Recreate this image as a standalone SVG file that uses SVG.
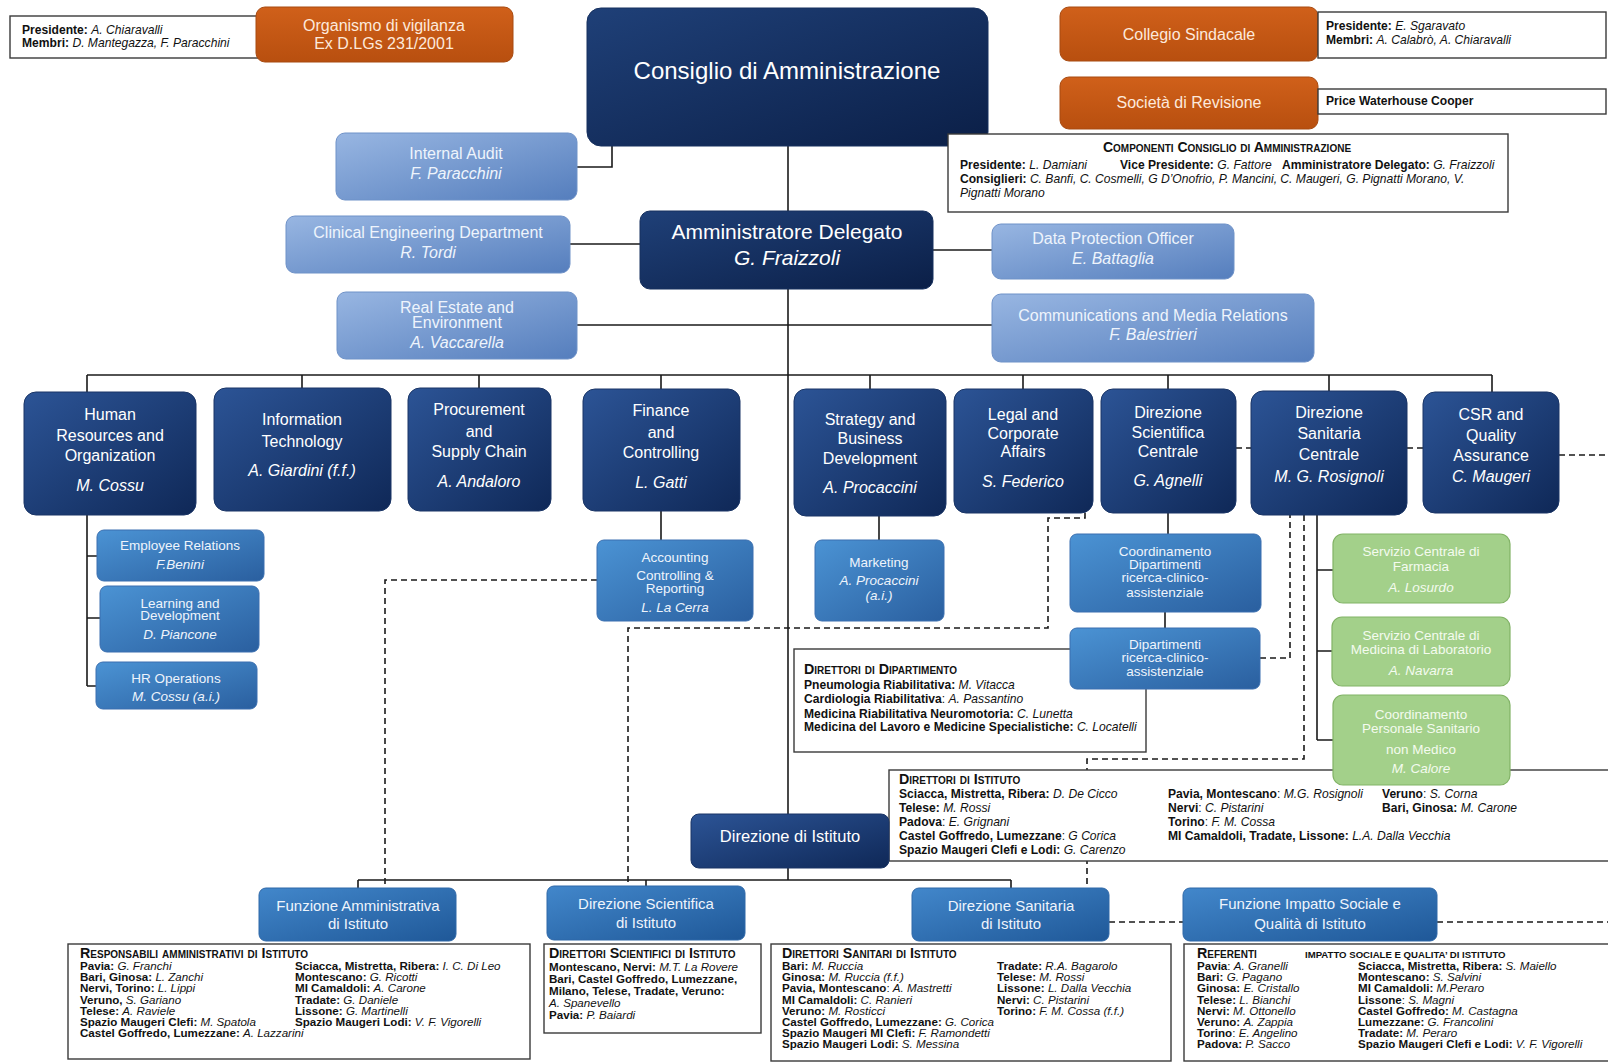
<svg xmlns="http://www.w3.org/2000/svg" width="1608" height="1064" viewBox="0 0 1608 1064">
<defs>
<linearGradient id="gDark" x1="0" y1="0" x2="1" y2="1"><stop offset="0" stop-color="#2c5496"/><stop offset="1" stop-color="#0f2857"/></linearGradient>
<linearGradient id="gTop" x1="0" y1="0" x2="1" y2="1"><stop offset="0" stop-color="#1f4078"/><stop offset="1" stop-color="#0b1f47"/></linearGradient>
<linearGradient id="gLight" x1="0" y1="0" x2="1" y2="1"><stop offset="0" stop-color="#98b6e2"/><stop offset="1" stop-color="#557ebd"/></linearGradient>
<linearGradient id="gMed" x1="0" y1="0" x2="1" y2="1"><stop offset="0" stop-color="#4b93d4"/><stop offset="1" stop-color="#2a5f9f"/></linearGradient>
<linearGradient id="gBot" x1="0" y1="0" x2="1" y2="1"><stop offset="0" stop-color="#4287cb"/><stop offset="1" stop-color="#1f5898"/></linearGradient>
<linearGradient id="gOr" x1="0" y1="0" x2="0" y2="1"><stop offset="0" stop-color="#d0601a"/><stop offset="1" stop-color="#b84f0f"/></linearGradient>
</defs>
<style>
.t{font-family:"Liberation Sans",Arial,sans-serif;fill:#ffffff;text-anchor:middle}
.i{font-style:italic}
.f16{font-size:16px}.f15{font-size:15px}.f13{font-size:13.5px}
.info{font-family:"Liberation Sans",Arial,sans-serif;font-size:12.1px;fill:#111}
.sm{font-size:11.6px}
.b{font-weight:bold}
.it{font-style:italic}
.sc{font-variant:small-caps;font-weight:bold;font-size:14.3px}
.ln{stroke:#1a1a1a;stroke-width:1.6;fill:none}
.ds{stroke:#1a1a1a;stroke-width:1.6;fill:none;stroke-dasharray:6 4}
.box{fill:#ffffff;stroke:#3a3a3a;stroke-width:1.4}
.dark{fill:url(#gDark);stroke:#1a3566;stroke-width:1}
.top{fill:url(#gTop);stroke:#16305e;stroke-width:1}
.light{fill:url(#gLight);stroke:#6f92c8;stroke-width:1}
.med{fill:url(#gMed);stroke:#3a6fb0;stroke-width:1}
.bot{fill:url(#gBot);stroke:#2f68a8;stroke-width:1}
.or{fill:url(#gOr);stroke:#a84a10;stroke-width:1}
.gr{fill:#a3d08a;stroke:#82b366;stroke-width:1.2}
.tl{fill:#eef4fc}
.tg{fill:#f4fbef}
</style>

<g id="connectors">
<path class="ln" d="M788,146 V814"/>
<path class="ln" d="M577,167 H612 V146"/>
<path class="ln" d="M570,244 H640"/>
<path class="ln" d="M933,250 H992"/>
<path class="ln" d="M577,325 H992"/>
<path class="ln" d="M87,375 H1492"/>
<path class="ln" d="M87,375 V392 M302,375 V388 M479,375 V388 M661,375 V389 M870,375 V389 M1023,375 V389 M1168,375 V389 M1329,375 V391 M1492,375 V392"/>
<path class="ln" d="M87,515 V686 M87,556 H97 M87,618 H100 M87,686 H96"/>
<path class="ln" d="M661,511 V540 M879,516 V540"/>
<path class="ln" d="M1168,513 V534 M1165,612 V628"/>
<path class="ln" d="M1317,515 V740 M1317,570 H1333 M1317,651 H1332 M1317,740 H1333"/>
<path class="ln" d="M788,868 V880 M358,880 H1011 M358,880 V888 M646,880 V886 M1011,880 V888"/>
<path class="ds" d="M1236,448 H1251 M1407,448 H1423 M1559,455 H1608"/>
<path class="ds" d="M1085,513 V518 H1048 V628 H628 V886"/>
<path class="ds" d="M597,580 H385 V888"/>
<path class="ds" d="M1260,658 H1290 V515"/>
<path class="ds" d="M1304,515 V759 H1087 V888"/>
<path class="ds" d="M1109,922 H1183 M1437,922 H1608"/>
</g>

<g id="ov-info">
<rect class="box" x="10" y="16" width="248" height="42"/>
<text class="info" x="22" y="34"><tspan class="b">Presidente: </tspan><tspan class="it">A. Chiaravalli</tspan></text>
<text class="info" x="22" y="47"><tspan class="b">Membri: </tspan><tspan class="it">D. Mantegazza, F. Paracchini</tspan></text>
</g>
<g id="organismo">
<rect class="or" x="256" y="7" width="257" height="55" rx="9"/>
<text class="t f16" x="384" y="31" style="fill:#fde9dc">Organismo di vigilanza</text>
<text class="t f16" x="384" y="49" style="fill:#fde9dc">Ex D.LGs 231/2001</text>
</g>

<g id="cda">
<rect class="top" x="587" y="8" width="401" height="138" rx="14"/>
<text class="t" x="787" y="79" style="font-size:24px">Consiglio di Amministrazione</text>
</g>

<g id="collegio">
<rect class="or" x="1060" y="7" width="258" height="54" rx="9"/>
<text class="t f16" x="1189" y="40" style="fill:#fde9dc">Collegio Sindacale</text>
</g>
<g id="collegio-info">
<rect class="box" x="1318" y="12" width="288" height="46"/>
<text class="info" x="1326" y="30"><tspan class="b">Presidente: </tspan><tspan class="it">E. Sgaravato</tspan></text>
<text class="info" x="1326" y="44"><tspan class="b">Membri: </tspan><tspan class="it">A. Calabrò, A. Chiaravalli</tspan></text>
</g>
<g id="revisione">
<rect class="or" x="1060" y="77" width="258" height="52" rx="9"/>
<text class="t f16" x="1189" y="108" style="fill:#fde9dc">Società di Revisione</text>
</g>
<g id="revisione-info">
<rect class="box" x="1318" y="89" width="288" height="25"/>
<text class="info b" x="1326" y="105">Price Waterhouse Cooper</text>
</g>

<g id="componenti">
<rect class="box" x="948" y="134" width="560" height="78"/>
<text class="info sc" x="1227" y="152" text-anchor="middle" style="font-size:14px">Componenti Consiglio di Amministrazione</text>
<text class="info" x="960" y="169"><tspan class="b">Presidente: </tspan><tspan class="it">L. Damiani</tspan></text>
<text class="info" x="1120" y="169"><tspan class="b">Vice Presidente: </tspan><tspan class="it">G. Fattore</tspan></text>
<text class="info" x="1282" y="169"><tspan class="b">Amministratore Delegato: </tspan><tspan class="it">G. Fraizzoli</tspan></text>
<text class="info" x="960" y="183"><tspan class="b">Consiglieri: </tspan><tspan class="it">C. Banfi, C. Cosmelli,  G D’Onofrio, P. Mancini, C. Maugeri, G. Pignatti Morano, V.</tspan></text>
<text class="info it" x="960" y="197">Pignatti Morano</text>
</g>

<g id="internal-audit">
<rect class="light" x="336" y="133" width="241" height="67" rx="9"/>
<text class="t f16 tl" x="456" y="159">Internal Audit</text>
<text class="t f16 tl i" x="456" y="179">F. Paracchini</text>
</g>
<g id="clinical-eng">
<rect class="light" x="286" y="216" width="284" height="57" rx="9"/>
<text class="t f16 tl" x="428" y="238">Clinical Engineering Department</text>
<text class="t f16 tl i" x="428" y="258">R. Tordi</text>
</g>
<g id="real-estate">
<rect class="light" x="337" y="292" width="240" height="67" rx="9"/>
<text class="t f16 tl" x="457" y="313">Real Estate and</text>
<text class="t f16 tl" x="457" y="328">Environment</text>
<text class="t f16 tl i" x="457" y="348">A. Vaccarella</text>
</g>
<g id="ad">
<rect class="top" x="640" y="211" width="293" height="78" rx="10"/>
<text class="t" x="787" y="239" style="font-size:21px">Amministratore Delegato</text>
<text class="t i" x="787" y="265" style="font-size:21px">G. Fraizzoli</text>
</g>
<g id="dpo">
<rect class="light" x="992" y="224" width="242" height="55" rx="9"/>
<text class="t f16 tl" x="1113" y="244">Data Protection Officer</text>
<text class="t f16 tl i" x="1113" y="264">E. Battaglia</text>
</g>
<g id="communications">
<rect class="light" x="992" y="294" width="322" height="68" rx="9"/>
<text class="t f16 tl" x="1153" y="321">Communications and Media Relations</text>
<text class="t f16 tl i" x="1153" y="340">F. Balestrieri</text>
</g>

<g id="hr">
<rect class="dark" x="24" y="392" width="172" height="123" rx="12"/>
<text class="t f16" x="110" y="420">Human</text>
<text class="t f16" x="110" y="441">Resources and</text>
<text class="t f16" x="110" y="461">Organization</text>
<text class="t f16 i" x="110" y="491">M. Cossu</text>
</g>
<g id="it">
<rect class="dark" x="214" y="388" width="177" height="123" rx="12"/>
<text class="t f16" x="302" y="425">Information</text>
<text class="t f16" x="302" y="447">Technology</text>
<text class="t f16 i" x="302" y="476">A. Giardini (f.f.)</text>
</g>
<g id="procurement">
<rect class="dark" x="408" y="388" width="143" height="123" rx="12"/>
<text class="t f16" x="479" y="415">Procurement</text>
<text class="t f16" x="479" y="437">and</text>
<text class="t f16" x="479" y="457">Supply Chain</text>
<text class="t f16 i" x="479" y="487">A. Andaloro</text>
</g>
<g id="finance">
<rect class="dark" x="583" y="389" width="157" height="122" rx="12"/>
<text class="t f16" x="661" y="416">Finance</text>
<text class="t f16" x="661" y="438">and</text>
<text class="t f16" x="661" y="458">Controlling</text>
<text class="t f16 i" x="661" y="488">L. Gatti</text>
</g>
<g id="strategy">
<rect class="dark" x="794" y="389" width="152" height="127" rx="12"/>
<text class="t f16" x="870" y="425">Strategy  and</text>
<text class="t f16" x="870" y="444">Business</text>
<text class="t f16" x="870" y="464">Development</text>
<text class="t f16 i" x="870" y="493">A. Procaccini</text>
</g>
<g id="legal">
<rect class="dark" x="954" y="389" width="139" height="124" rx="12"/>
<text class="t f16" x="1023" y="420">Legal and</text>
<text class="t f16" x="1023" y="439">Corporate</text>
<text class="t f16" x="1023" y="457">Affairs</text>
<text class="t f16 i" x="1023" y="487">S. Federico</text>
</g>
<g id="dir-scientifica">
<rect class="dark" x="1101" y="389" width="135" height="124" rx="12"/>
<text class="t f16" x="1168" y="418">Direzione</text>
<text class="t f16" x="1168" y="438">Scientifica</text>
<text class="t f16" x="1168" y="457">Centrale</text>
<text class="t f16 i" x="1168" y="486">G. Agnelli</text>
</g>
<g id="dir-sanitaria">
<rect class="dark" x="1251" y="391" width="156" height="124" rx="12"/>
<text class="t f16" x="1329" y="418">Direzione</text>
<text class="t f16" x="1329" y="439">Sanitaria</text>
<text class="t f16" x="1329" y="460">Centrale</text>
<text class="t f16 i" x="1329" y="482">M. G. Rosignoli</text>
</g>
<g id="csr">
<rect class="dark" x="1423" y="392" width="136" height="121" rx="12"/>
<text class="t f16" x="1491" y="420">CSR and</text>
<text class="t f16" x="1491" y="441">Quality</text>
<text class="t f16" x="1491" y="461">Assurance</text>
<text class="t f16 i" x="1491" y="482">C. Maugeri</text>
</g>

<g id="employee-relations">
<rect class="med" x="97" y="530" width="167" height="51" rx="7"/>
<text class="t f13 tl" x="180" y="550">Employee Relations</text>
<text class="t f13 tl i" x="180" y="569">F.Benini</text>
</g>
<g id="learning">
<rect class="med" x="100" y="586" width="159" height="66" rx="7"/>
<text class="t f13 tl" x="180" y="608">Learning and</text>
<text class="t f13 tl" x="180" y="620">Development</text>
<text class="t f13 tl i" x="180" y="639">D. Piancone</text>
</g>
<g id="hr-operations">
<rect class="med" x="96" y="662" width="161" height="47" rx="7"/>
<text class="t f13 tl" x="176" y="683">HR Operations</text>
<text class="t f13 tl i" x="176" y="701">M. Cossu (a.i.)</text>
</g>
<g id="accounting">
<rect class="med" x="597" y="540" width="156" height="81" rx="7"/>
<text class="t f13 tl" x="675" y="562">Accounting</text>
<text class="t f13 tl" x="675" y="580">Controlling &amp;</text>
<text class="t f13 tl" x="675" y="593">Reporting</text>
<text class="t f13 tl i" x="675" y="612">L. La Cerra</text>
</g>
<g id="marketing">
<rect class="med" x="815" y="540" width="129" height="81" rx="7"/>
<text class="t f13 tl" x="879" y="567">Marketing</text>
<text class="t f13 tl i" x="879" y="585">A. Procaccini</text>
<text class="t f13 tl i" x="879" y="600">(a.i.)</text>
</g>
<g id="coord-dipartimenti">
<rect class="med" x="1070" y="534" width="191" height="78" rx="7"/>
<text class="t f13 tl" x="1165" y="556">Coordinamento</text>
<text class="t f13 tl" x="1165" y="569">Dipartimenti</text>
<text class="t f13 tl" x="1165" y="582">ricerca-clinico-</text>
<text class="t f13 tl" x="1165" y="597">assistenziale</text>
</g>

<g id="direttori-dipartimento">
<rect class="box" x="794" y="649" width="352" height="103"/>
<text class="info sc" x="804" y="674">Direttori di Dipartimento</text>
<text class="info" x="804" y="689"><tspan class="b">Pneumologia Riabilitativa: </tspan><tspan class="it">M. Vitacca</tspan></text>
<text class="info" x="804" y="703"><tspan class="b">Cardiologia Riabilitativa</tspan><tspan>: </tspan><tspan class="it">A. Passantino</tspan></text>
<text class="info" x="804" y="718"><tspan class="b">Medicina Riabilitativa Neuromotoria: </tspan><tspan class="it">C. Lunetta</tspan></text>
<text class="info" x="804" y="731"><tspan class="b">Medicina del Lavoro e Medicine Specialistiche: </tspan><tspan class="it">C. Locatelli</tspan></text>
</g>
<g id="dipartimenti">
<rect class="med" x="1070" y="628" width="190" height="61" rx="7"/>
<text class="t f13 tl" x="1165" y="649">Dipartimenti</text>
<text class="t f13 tl" x="1165" y="662">ricerca-clinico-</text>
<text class="t f13 tl" x="1165" y="676">assistenziale</text>
</g>

<g id="direttori-istituto">
<rect class="box" x="889" y="770" width="725" height="91"/>
<text class="info sc" x="899" y="784">Direttori di Istituto</text>
<text class="info" x="899" y="798"><tspan class="b">Sciacca, Mistretta, Ribera: </tspan><tspan class="it">D. De Cicco</tspan></text>
<text class="info" x="899" y="812"><tspan class="b">Telese: </tspan><tspan class="it">M. Rossi</tspan></text>
<text class="info" x="899" y="826"><tspan class="b">Padova</tspan><tspan>: </tspan><tspan class="it">E. Grignani</tspan></text>
<text class="info" x="899" y="840"><tspan class="b">Castel Goffredo, Lumezzane</tspan><tspan>: </tspan><tspan class="it">G Corica</tspan></text>
<text class="info" x="899" y="854"><tspan class="b">Spazio Maugeri Clefi e Lodi: </tspan><tspan class="it">G. Carenzo</tspan></text>
<text class="info" x="1168" y="798"><tspan class="b">Pavia, Montescano</tspan><tspan>: </tspan><tspan class="it">M.G. Rosignoli</tspan></text>
<text class="info" x="1168" y="812"><tspan class="b">Nervi</tspan><tspan>: </tspan><tspan class="it">C. Pistarini</tspan></text>
<text class="info" x="1168" y="826"><tspan class="b">Torino</tspan><tspan>: </tspan><tspan class="it">F. M. Cossa</tspan></text>
<text class="info" x="1168" y="840"><tspan class="b">MI Camaldoli, Tradate, Lissone: </tspan><tspan class="it">L.A. Dalla Vecchia</tspan></text>
<text class="info" x="1382" y="798"><tspan class="b">Veruno</tspan><tspan>: </tspan><tspan class="it">S. Corna</tspan></text>
<text class="info" x="1382" y="812"><tspan class="b">Bari, Ginosa: </tspan><tspan class="it">M. Carone</tspan></text>
</g>

<g id="farmacia">
<rect class="gr" x="1333" y="534" width="177" height="69" rx="10"/>
<text class="t f13 tg" x="1421" y="556">Servizio Centrale di</text>
<text class="t f13 tg" x="1421" y="571">Farmacia</text>
<text class="t f13 tg i" x="1421" y="592">A. Losurdo</text>
</g>
<g id="laboratorio">
<rect class="gr" x="1332" y="617" width="178" height="69" rx="10"/>
<text class="t f13 tg" x="1421" y="640">Servizio Centrale di</text>
<text class="t f13 tg" x="1421" y="654">Medicina di Laboratorio</text>
<text class="t f13 tg i" x="1421" y="675">A. Navarra</text>
</g>
<g id="personale">
<rect class="gr" x="1333" y="695" width="177" height="90" rx="10"/>
<text class="t f13 tg" x="1421" y="719">Coordinamento</text>
<text class="t f13 tg" x="1421" y="733">Personale Sanitario</text>
<text class="t f13 tg" x="1421" y="754">non Medico</text>
<text class="t f13 tg i" x="1421" y="773">M. Calore</text>
</g>

<g id="direzione-istituto">
<rect class="dark" x="691" y="814" width="198" height="54" rx="8"/>
<text class="t" x="790" y="842" style="font-size:16.5px">Direzione di Istituto</text>
</g>

<g id="funz-amm">
<rect class="bot" x="259" y="888" width="197" height="53" rx="7"/>
<text class="t f15 tl" x="358" y="911">Funzione Amministrativa</text>
<text class="t f15 tl" x="358" y="929">di Istituto</text>
</g>
<g id="dir-sci-ist">
<rect class="bot" x="547" y="886" width="198" height="54" rx="7"/>
<text class="t f15 tl" x="646" y="909">Direzione Scientifica</text>
<text class="t f15 tl" x="646" y="928">di Istituto</text>
</g>
<g id="dir-san-ist">
<rect class="bot" x="912" y="888" width="197" height="53" rx="7"/>
<text class="t f15 tl" x="1011" y="911">Direzione Sanitaria</text>
<text class="t f15 tl" x="1011" y="929">di Istituto</text>
</g>
<g id="funz-impatto">
<rect class="bot" x="1183" y="888" width="254" height="53" rx="7"/>
<text class="t f15 tl" x="1310" y="909">Funzione Impatto Sociale e</text>
<text class="t f15 tl" x="1310" y="929">Qualità di Istituto</text>
</g>

<g id="responsabili">
<rect class="box" x="68" y="944" width="462" height="115"/>
<text class="info sc" x="80" y="958">Responsabili amministrativi di Istituto</text>
<text class="info sm" x="80" y="970"><tspan class="b">Pavia: </tspan><tspan class="it">G. Franchi</tspan></text>
<text class="info sm" x="80" y="981.2"><tspan class="b">Bari, Ginosa: </tspan><tspan class="it">L. Zanchi</tspan></text>
<text class="info sm" x="80" y="992.4"><tspan class="b">Nervi, Torino: </tspan><tspan class="it">L. Lippi</tspan></text>
<text class="info sm" x="80" y="1003.6"><tspan class="b">Veruno, </tspan><tspan class="it">S. Gariano</tspan></text>
<text class="info sm" x="80" y="1014.8"><tspan class="b">Telese: </tspan><tspan class="it">A. Raviele</tspan></text>
<text class="info sm" x="80" y="1026"><tspan class="b">Spazio Maugeri Clefi: </tspan><tspan class="it">M. Spatola</tspan></text>
<text class="info sm" x="80" y="1037.2"><tspan class="b">Castel Goffredo, Lumezzane: </tspan><tspan class="it">A. Lazzarini</tspan></text>
<text class="info sm" x="295" y="970"><tspan class="b">Sciacca, Mistretta, Ribera: </tspan><tspan class="it">I. C. Di Leo</tspan></text>
<text class="info sm" x="295" y="981.2"><tspan class="b">Montescano: </tspan><tspan class="it">G. Ricotti</tspan></text>
<text class="info sm" x="295" y="992.4"><tspan class="b">MI Camaldoli: </tspan><tspan class="it">A. Carone</tspan></text>
<text class="info sm" x="295" y="1003.6"><tspan class="b">Tradate: </tspan><tspan class="it">G. Daniele</tspan></text>
<text class="info sm" x="295" y="1014.8"><tspan class="b">Lissone: </tspan><tspan class="it">G. Martinelli</tspan></text>
<text class="info sm" x="295" y="1026"><tspan class="b">Spazio Maugeri Lodi: </tspan><tspan class="it">V. F. Vigorelli</tspan></text>
</g>

<g id="dir-scientifici">
<rect class="box" x="544" y="944" width="217" height="89"/>
<text class="info sc" x="549" y="958">Direttori Scientifici di Istituto</text>
<text class="info sm" x="549" y="971"><tspan class="b">Montescano, Nervi: </tspan><tspan class="it">M.T. La Rovere</tspan></text>
<text class="info sm b" x="549" y="983">Bari, Castel Goffredo, Lumezzane,</text>
<text class="info sm b" x="549" y="995">Milano, Telese, Tradate, Veruno:</text>
<text class="info sm it" x="549" y="1007">A. Spanevello</text>
<text class="info sm" x="549" y="1019"><tspan class="b">Pavia: </tspan><tspan class="it">P. Baiardi</tspan></text>
</g>

<g id="dir-sanitari">
<rect class="box" x="771" y="944" width="400" height="117"/>
<text class="info sc" x="782" y="958">Direttori Sanitari di Istituto</text>
<text class="info sm" x="782" y="970"><tspan class="b">Bari: </tspan><tspan class="it">M. Ruccia</tspan></text>
<text class="info sm" x="782" y="981.2"><tspan class="b">Ginosa: </tspan><tspan class="it">M. Ruccia (f.f.)</tspan></text>
<text class="info sm" x="782" y="992.4"><tspan class="b">Pavia, Montescano</tspan><tspan>: </tspan><tspan class="it">A. Mastretti</tspan></text>
<text class="info sm" x="782" y="1003.6"><tspan class="b">MI Camaldoli: </tspan><tspan class="it">C. Ranieri</tspan></text>
<text class="info sm" x="782" y="1014.8"><tspan class="b">Veruno: </tspan><tspan class="it">M. Rosticci</tspan></text>
<text class="info sm" x="782" y="1026"><tspan class="b">Castel Goffredo, Lumezzane: </tspan><tspan class="it">G. Corica</tspan></text>
<text class="info sm" x="782" y="1037.2"><tspan class="b">Spazio Maugeri MI Clefi: </tspan><tspan class="it">F. Ramondetti</tspan></text>
<text class="info sm" x="782" y="1048.4"><tspan class="b">Spazio Maugeri Lodi: </tspan><tspan class="it">S. Messina</tspan></text>
<text class="info sm" x="997" y="970"><tspan class="b">Tradate: </tspan><tspan class="it">R.A. Bagarolo</tspan></text>
<text class="info sm" x="997" y="981.2"><tspan class="b">Telese: </tspan><tspan class="it">M. Rossi</tspan></text>
<text class="info sm" x="997" y="992.4"><tspan class="b">Lissone: </tspan><tspan class="it">L. Dalla Vecchia</tspan></text>
<text class="info sm" x="997" y="1003.6"><tspan class="b">Nervi: </tspan><tspan class="it">C. Pistarini</tspan></text>
<text class="info sm" x="997" y="1014.8"><tspan class="b">Torino: </tspan><tspan class="it">F. M.  Cossa (f.f.)</tspan></text>
</g>

<g id="referenti">
<rect class="box" x="1184" y="944" width="430" height="117"/>
<text class="info sc" x="1197" y="958">Referenti</text>
<text class="info b" x="1305" y="958" style="font-size:9.6px">IMPATTO SOCIALE E QUALITA’ DI ISTITUTO</text>
<text class="info sm" x="1197" y="970"><tspan class="b">Pavia</tspan><tspan>: </tspan><tspan class="it">A. Granelli</tspan></text>
<text class="info sm" x="1197" y="981.2"><tspan class="b">Bari: </tspan><tspan class="it">G. Pagano</tspan></text>
<text class="info sm" x="1197" y="992.4"><tspan class="b">Ginosa: </tspan><tspan class="it">E. Cristallo</tspan></text>
<text class="info sm" x="1197" y="1003.6"><tspan class="b">Telese: </tspan><tspan class="it">L. Bianchi</tspan></text>
<text class="info sm" x="1197" y="1014.8"><tspan class="b">Nervi: </tspan><tspan class="it">M. Ottonello</tspan></text>
<text class="info sm" x="1197" y="1026"><tspan class="b">Veruno: </tspan><tspan class="it">A. Zappia</tspan></text>
<text class="info sm" x="1197" y="1037.2"><tspan class="b">Torino</tspan><tspan>: </tspan><tspan class="it">E. Angelino</tspan></text>
<text class="info sm" x="1197" y="1048.4"><tspan class="b">Padova: </tspan><tspan class="it">P. Sacco</tspan></text>
<text class="info sm" x="1358" y="970"><tspan class="b">Sciacca, Mistretta, Ribera: </tspan><tspan class="it">S. Maiello</tspan></text>
<text class="info sm" x="1358" y="981.2"><tspan class="b">Montescano: </tspan><tspan class="it">S. Salvini</tspan></text>
<text class="info sm" x="1358" y="992.4"><tspan class="b">MI Camaldoli: </tspan><tspan class="it">M.Peraro</tspan></text>
<text class="info sm" x="1358" y="1003.6"><tspan class="b">Lissone</tspan><tspan>: </tspan><tspan class="it">S. Magni</tspan></text>
<text class="info sm" x="1358" y="1014.8"><tspan class="b">Castel Goffredo: </tspan><tspan class="it">M. Castagna</tspan></text>
<text class="info sm" x="1358" y="1026"><tspan class="b">Lumezzane: </tspan><tspan class="it">G. Francolini</tspan></text>
<text class="info sm" x="1358" y="1037.2"><tspan class="b">Tradate: </tspan><tspan class="it">M. Peraro</tspan></text>
<text class="info sm" x="1358" y="1048.4"><tspan class="b">Spazio Maugeri Clefi e  Lodi: </tspan><tspan class="it">V. F. Vigorelli</tspan></text>
</g>
</svg>
